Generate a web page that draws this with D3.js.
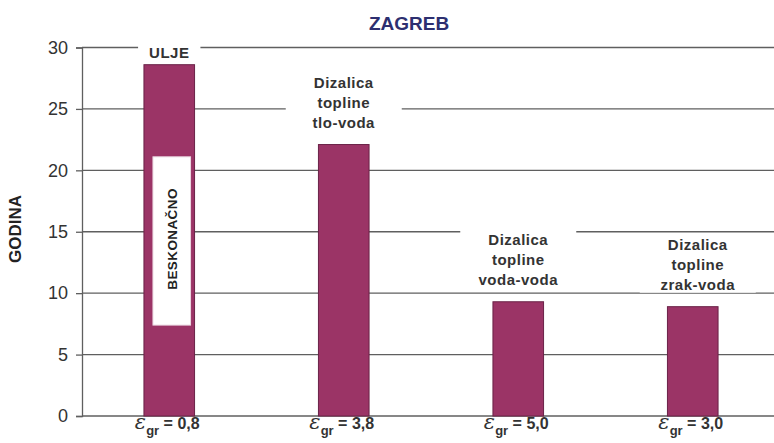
<!DOCTYPE html>
<html>
<head>
<meta charset="utf-8">
<script src="https://cdn.jsdelivr.net/npm/d3@7"></script>
<style>
  body { margin: 0; background: #fff; }
  text { font-family: "Liberation Sans", Arial, sans-serif; }
</style>
</head>
<body>
<div id="chart"></div>
<script>
// data
const categories = ["ulje", "tlo-voda", "voda-voda", "zrak-voda"];
const years = [28.6, 22.1, 9.3, 8.9];
const barLabels = [["ULJE"], ["Dizalica", "topline", "tlo-voda"], ["Dizalica", "topline", "voda-voda"], ["Dizalica", "topline", "zrak-voda"]];
const epsValues = ["0,8", "3,8", "5,0", "3,0"];
const infiniteRange = [7.4, 21.1];   // white "BESKONAČNO" box in the first bar
const yTicks = [0, 5, 10, 15, 20, 25, 30];

const width = 774, height = 443;
const margin = {top: 47.5, right: 0, bottom: 27, left: 82};

const svg = d3.select("#chart").append("svg")
    .attr("width", width)
    .attr("height", height);

const x = d3.scaleBand()
    .domain(categories)
    .range([margin.left, 780])
    .paddingInner(0.71)
    .paddingOuter(0.355);

const y = d3.scaleLinear()
    .domain([0, 30])
    .range([height - margin.bottom, margin.top]);

const lineColor = "#5f5f5f";
const textColor = "#333";

// gridlines
svg.append("g")
    .selectAll("line")
    .data(yTicks.filter(d => d > 0))
    .join("line")
    .attr("x1", margin.left)
    .attr("x2", width)
    .attr("y1", d => y(d))
    .attr("y2", d => y(d))
    .attr("stroke", lineColor)
    .attr("stroke-width", 1.3);

// y axis
const yAxis = svg.append("g")
    .attr("transform", "translate(" + margin.left + ",0)")
    .call(d3.axisLeft(y).tickValues(yTicks).tickSize(6).tickPadding(8).tickFormat(d3.format("d")));
yAxis.select(".domain").attr("stroke", lineColor).attr("stroke-width", 1.3);
yAxis.selectAll(".tick line").attr("stroke", lineColor).attr("stroke-width", 1.3);
yAxis.selectAll(".tick text")
    .attr("fill", textColor)
    .style("font-size", "18px")
    .style("font-family", "'Liberation Sans', Arial, sans-serif");

// bottom line
svg.append("line")
    .attr("x1", margin.left)
    .attr("x2", width)
    .attr("y1", y(0))
    .attr("y2", y(0))
    .attr("stroke", lineColor)
    .attr("stroke-width", 1.3);

// bars
svg.append("g")
    .selectAll("rect")
    .data(categories)
    .join("rect")
    .attr("x", d => x(d))
    .attr("width", x.bandwidth())
    .attr("y", (d, i) => y(years[i]))
    .attr("height", (d, i) => y(0) - y(years[i]))
    .attr("fill", "#9b3466")
    .attr("stroke", "#6a2247")
    .attr("stroke-width", 1);

// white "infinite" box inside first bar
const bx = x(categories[0]) + 9;
const bw = x.bandwidth() - 13;
svg.append("rect")
    .attr("x", bx)
    .attr("width", bw)
    .attr("y", y(infiniteRange[1]))
    .attr("height", y(infiniteRange[0]) - y(infiniteRange[1]))
    .attr("fill", "#fff")
    .attr("stroke", "#ead6e0");

svg.append("text")
    .attr("transform", "translate(" + (bx + bw / 2 + 5) + "," + ((y(infiniteRange[0]) + y(infiniteRange[1])) / 2 - 2) + ") rotate(-90)")
    .attr("text-anchor", "middle")
    .attr("fill", "#222")
    .style("font-size", "13.5px")
    .style("font-weight", "bold")
    .style("letter-spacing", "0.4px")
    .text("BESKONAČNO");

// labels above bars with white background
const lineH = 20;
barLabels.forEach((lines, i) => {
    const cx = x(categories[i]) + x.bandwidth() / 2 + (i === 3 ? 5 : 0);
    const single = lines.length === 1;
    const lastBase = y(years[i]) - (single ? 7 : 17);
    const g = svg.append("g");
    const bg = g.append("rect").attr("fill", "#fff");
    const t = g.append("text")
        .attr("text-anchor", "middle")
        .attr("fill", textColor)
        .style("font-size", "15px")
        .style("font-weight", "bold")
        .style("letter-spacing", "0.5px");
    lines.forEach((l, j) => {
        t.append("tspan")
            .attr("x", cx)
            .attr("y", lastBase - (lines.length - 1 - j) * lineH)
            .text(l);
    });
    const bb = t.node().getBBox();
    const boxW = single ? bb.width + 22 : 116;
    bg.attr("x", cx - boxW / 2)
        .attr("width", boxW)
        .attr("y", bb.y - 2)
        .attr("height", bb.height + 2);
});

// x labels: epsilon_gr = value
const xl = svg.append("g")
    .selectAll("text")
    .data(categories)
    .join("text")
    .attr("x", d => x(d) + x.bandwidth() / 2 - 2)
    .attr("y", 429)
    .attr("text-anchor", "middle")
    .attr("fill", textColor);
xl.append("tspan")
    .style("font-family", "'DejaVu Serif', serif")
    .style("font-style", "italic")
    .style("font-size", "21px")
    .text("ε");
xl.append("tspan")
    .attr("dy", 6)
    .style("font-size", "13px")
    .style("font-weight", "bold")
    .text("gr");
xl.append("tspan")
    .attr("dy", -6)
    .style("font-size", "16px")
    .style("font-weight", "bold")
    .text((d, i) => " = " + epsValues[i]);

// title
svg.append("text")
    .attr("x", 409)
    .attr("y", 30)
    .attr("text-anchor", "middle")
    .attr("fill", "#2d2f70")
    .style("font-size", "19px")
    .style("font-weight", "bold")
    .text("ZAGREB");

// y axis title
svg.append("text")
    .attr("transform", "translate(21," + 229 + ") rotate(-90)")
    .attr("text-anchor", "middle")
    .attr("fill", "#222")
    .style("font-size", "17px")
    .style("font-weight", "bold")
    .text("GODINA");
</script>
</body>
</html>
